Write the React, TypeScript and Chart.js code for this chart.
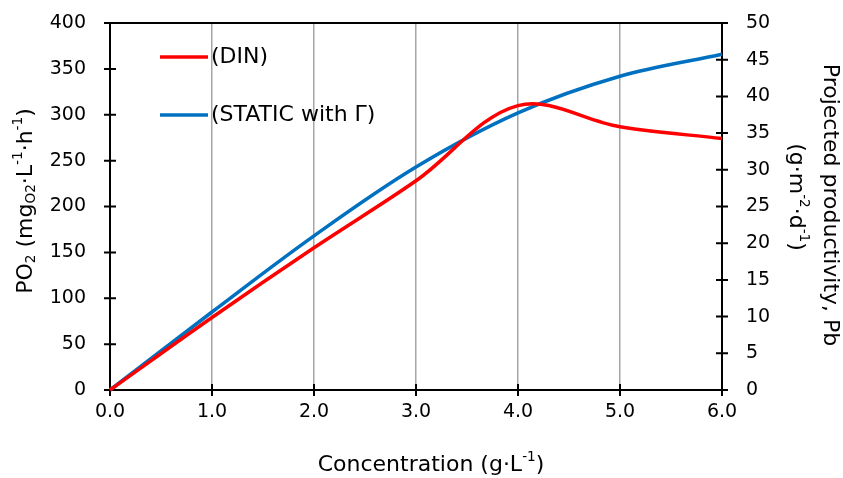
import React, { useEffect, useRef } from "react";
import { Chart, registerables } from "chart.js";

Chart.register(...registerables);

const concentration = [0, 1, 2, 3, 4, 5, 6];

const dinLabel = "(DIN)";
const dinValues = [0, 79, 155, 228, 310, 287, 274];

const staticLabel = "(STATIC with Γ)";
const staticValues = [0, 85, 168, 243, 302, 342, 366];

const xTicks = [0, 1, 2, 3, 4, 5, 6];
const leftTicks = [0, 50, 100, 150, 200, 250, 300, 350, 400];
const rightTicks = [0, 5, 10, 15, 20, 25, 30, 35, 40, 45, 50];

const FONT = "'DejaVu Sans', sans-serif";
const RED = "#ff0000";
const BLUE = "#0070c0";
const TICK_SIZE = 19;
const TITLE_SIZE = 22;

type Seg = { t: string; s?: "sup" | "sub" };

const xTitle: Seg[] = [{ t: "Concentration (g·L" }, { t: "-1", s: "sup" }, { t: ")" }];
const leftTitle: Seg[] = [
  { t: "PO" }, { t: "2", s: "sub" }, { t: " (mg" }, { t: "O2", s: "sub" },
  { t: "·L" }, { t: "-1", s: "sup" }, { t: "·h" }, { t: "-1", s: "sup" }, { t: ")" },
];
const rightTitle1: Seg[] = [{ t: "Projected productivity, Pb" }];
const rightTitle2: Seg[] = [
  { t: "(g·m" }, { t: "-2", s: "sup" }, { t: "·d" }, { t: "-1", s: "sup" }, { t: ")" },
];

function richWidth(ctx: CanvasRenderingContext2D, segs: Seg[], size: number) {
  let w = 0;
  for (const sg of segs) {
    ctx.font = `${sg.s ? size * 0.62 : size}px ${FONT}`;
    w += ctx.measureText(sg.t).width;
  }
  return w;
}

function drawRich(ctx: CanvasRenderingContext2D, segs: Seg[], size: number, cx: number, cy: number, rot: number) {
  ctx.save();
  ctx.translate(cx, cy);
  ctx.rotate(rot);
  const w = richWidth(ctx, segs, size);
  let x = -w / 2;
  ctx.fillStyle = "#000";
  ctx.textBaseline = "middle";
  ctx.textAlign = "left";
  for (const sg of segs) {
    const fs = sg.s ? size * 0.62 : size;
    ctx.font = `${fs}px ${FONT}`;
    const dy = sg.s === "sup" ? -size * 0.33 : sg.s === "sub" ? size * 0.25 : 0;
    ctx.fillText(sg.t, x, dy);
    x += ctx.measureText(sg.t).width;
  }
  ctx.restore();
}

const axesPlugin = {
  id: "customAxes",
  beforeDatasetsDraw(chart: any) {
    const { ctx, chartArea } = chart;
    const { left, right, top, bottom } = chartArea;
    ctx.save();
    ctx.strokeStyle = "#000";
    ctx.lineWidth = 2;
    ctx.beginPath();
    ctx.moveTo(left, top); ctx.lineTo(right, top);
    ctx.moveTo(left, bottom); ctx.lineTo(right, bottom);
    ctx.moveTo(left, top); ctx.lineTo(left, bottom);
    ctx.moveTo(right, top); ctx.lineTo(right, bottom);
    const tl = 6;
    for (const v of leftTicks) {
      const y = chart.scales.y.getPixelForValue(v);
      ctx.moveTo(left - tl, y); ctx.lineTo(left + tl, y);
    }
    for (const v of rightTicks) {
      const y = chart.scales.y1.getPixelForValue(v);
      ctx.moveTo(right - tl, y); ctx.lineTo(right + tl, y);
    }
    for (const v of xTicks) {
      const x = chart.scales.x.getPixelForValue(v);
      ctx.moveTo(x, bottom - tl); ctx.lineTo(x, bottom + tl);
    }
    ctx.stroke();
    ctx.restore();
  },
  afterDraw(chart: any) {
    const { ctx } = chart;
    drawRich(ctx, xTitle, TITLE_SIZE, 431, 465, 0);
    drawRich(ctx, leftTitle, TITLE_SIZE, 26, 201, -Math.PI / 2);
    drawRich(ctx, rightTitle1, TITLE_SIZE, 830, 205, Math.PI / 2);
    drawRich(ctx, rightTitle2, TITLE_SIZE, 796, 197, Math.PI / 2);
    const items = [
      { label: dinLabel, color: RED, y: 57 },
      { label: staticLabel, color: BLUE, y: 115 },
    ];
    ctx.save();
    for (const it of items) {
      ctx.strokeStyle = it.color;
      ctx.lineWidth = 3.5;
      ctx.beginPath();
      ctx.moveTo(160, it.y); ctx.lineTo(208, it.y);
      ctx.stroke();
      ctx.fillStyle = "#000";
      ctx.font = `${TITLE_SIZE}px ${FONT}`;
      ctx.textBaseline = "middle";
      ctx.textAlign = "left";
      ctx.fillText(it.label, 211, it.y);
    }
    ctx.restore();
  },
};

export default function App() {
  const ref = useRef<HTMLCanvasElement>(null);
  useEffect(() => {
    document.body.style.margin = "0";
    const canvas = ref.current!;
    const toPts = (xs: number[], ys: number[]) => xs.map((x, i) => ({ x, y: ys[i] }));
    const chart = new Chart(canvas, {
      type: "line",
      data: {
        datasets: [
          {
            label: dinLabel,
            data: toPts(concentration, dinValues),
            borderColor: RED,
            borderWidth: 3.5,
            pointRadius: 0,
            tension: 0.35,
            yAxisID: "y",
            clip: false as any,
          },
          {
            label: staticLabel,
            data: toPts(concentration, staticValues),
            borderColor: BLUE,
            borderWidth: 3.5,
            pointRadius: 0,
            tension: 0.35,
            yAxisID: "y",
            clip: false as any,
          },
        ],
      },
      options: {
        responsive: false,
        animation: false,
        events: [],
        layout: { padding: { top: 23, left: 0, right: 0, bottom: 0 } },
        plugins: { legend: { display: false }, tooltip: { enabled: false } },
        scales: {
          x: {
            type: "linear",
            min: 0,
            max: 6,
            afterBuildTicks: (s: any) => { s.ticks = xTicks.map((v) => ({ value: v })); },
            afterFit: (s: any) => { s.height = 88; s.paddingLeft = 0; s.paddingRight = 0; },
            grid: {
              display: true,
              drawTicks: false,
              color: (c: any) => (c.tick && (c.tick.value === 0 || c.tick.value === 6) ? "rgba(0,0,0,0)" : "#a6a6a6"),
              lineWidth: 1.5,
            },
            border: { display: false },
            ticks: {
              padding: 11,
              color: "#000",
              font: { family: FONT, size: TICK_SIZE },
              callback: (v: any) => Number(v).toFixed(1),
            },
          },
          y: {
            type: "linear",
            position: "left",
            min: 0,
            max: 400,
            afterBuildTicks: (s: any) => { s.ticks = leftTicks.map((v) => ({ value: v })); },
            afterFit: (s: any) => { s.width = 110; s.paddingTop = 0; s.paddingBottom = 0; },
            grid: { display: false, drawTicks: false },
            border: { display: false },
            ticks: { padding: 24, color: "#000", font: { family: FONT, size: TICK_SIZE } },
          },
          y1: {
            type: "linear",
            position: "right",
            min: 0,
            max: 50,
            afterBuildTicks: (s: any) => { s.ticks = rightTicks.map((v) => ({ value: v })); },
            afterFit: (s: any) => { s.width = 121; s.paddingTop = 0; s.paddingBottom = 0; },
            grid: { display: false, drawTicks: false },
            border: { display: false },
            ticks: { padding: 24, color: "#000", font: { family: FONT, size: TICK_SIZE } },
          },
        },
      },
      plugins: [axesPlugin],
    } as any);
    return () => chart.destroy();
  }, []);
  return (
    <div style={{ width: 843, height: 478, background: "#fff" }}>
      <canvas ref={ref} width={843} height={478} />
    </div>
  );
}
